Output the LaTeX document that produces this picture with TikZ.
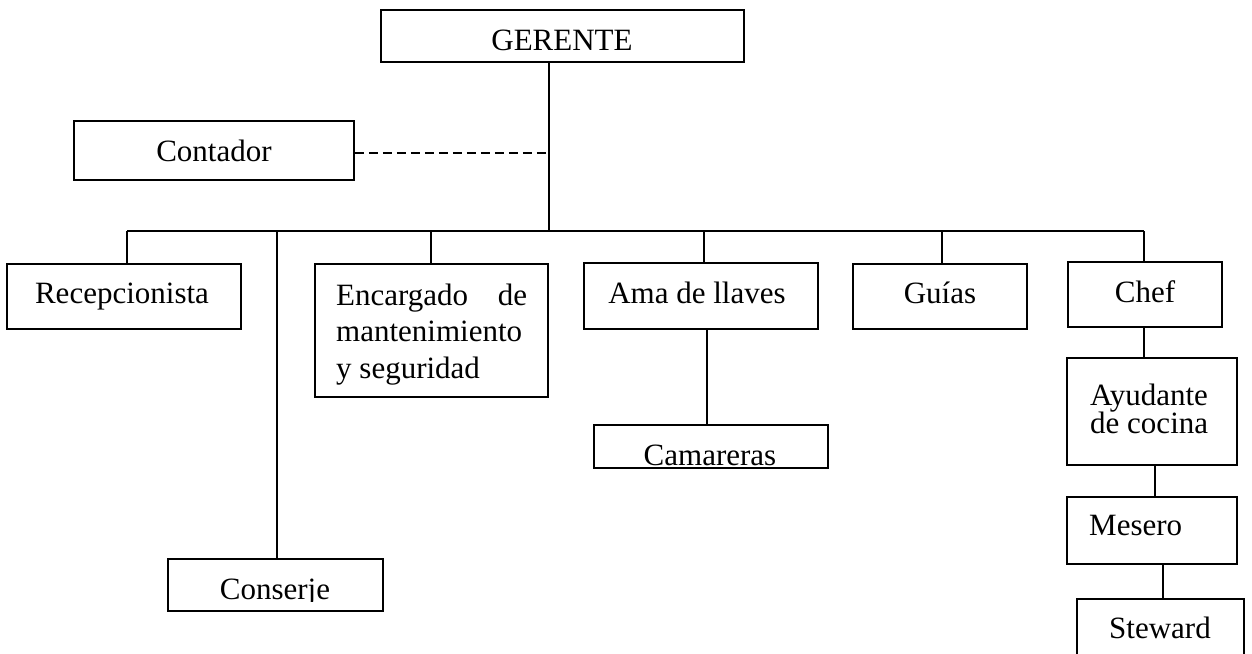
\documentclass[tikz,border=0pt]{standalone}
\usepackage{fontspec}
\setmainfont{Liberation Serif}
\begin{document}
\begin{tikzpicture}[x=1pt,y=-1pt,
  box/.style={draw,line width=1.6pt,inner sep=0pt,rectangle},
  txt/.style={inner sep=0pt,font=\fontsize{31}{36}\selectfont},
  link/.style={line width=1.6pt},
  dash line/.style={line width=1.6pt,dash pattern=on 9pt off 5pt}]
\useasboundingbox (0,0) rectangle (1252,653);
\clip (0,0) rectangle (1252,653);
% boxes
\node[box,minimum width=363pt,minimum height=52pt] (ger) at (562.5,36) {};
\node[box,minimum width=280pt,minimum height=59pt] (cont) at (214,150.5) {};
\node[box,minimum width=234pt,minimum height=65pt] (rec) at (124,296.5) {};
\node[box,minimum width=233pt,minimum height=133pt] (enc) at (431.5,330.5) {};
\node[box,minimum width=234pt,minimum height=66pt] (ama) at (701,296) {};
\node[box,minimum width=174pt,minimum height=65pt] (guias) at (940,296.5) {};
\node[box,minimum width=154pt,minimum height=65pt] (chef) at (1145,294.5) {};
\node[box,minimum width=170pt,minimum height=107pt] (aya) at (1152,411.5) {};
\node[box,minimum width=170pt,minimum height=67pt] (mes) at (1152,530.5) {};
\node[box,minimum width=167pt,minimum height=91pt] (stew) at (1160.5,644.5) {};
\node[box,minimum width=234pt,minimum height=43pt] (cam) at (711,446.5) {};
\node[box,minimum width=215pt,minimum height=52pt] (cons) at (275.5,585) {};
% texts
\node[txt,anchor=base] (tger) at (562,50) {GERENTE};
\node[txt,anchor=base] (tcont) at (214,161) {Contador};
\node[txt,anchor=base] (trec) at (122,303) {Recepcionista};
\node[txt,anchor=base west] (tenc1) at (336,305) {\makebox[191pt][s]{Encargado\hfill de}};
\node[txt,anchor=base west] (tenc2) at (336,341) {mantenimiento};
\node[txt,anchor=base west] (tenc3) at (336,378) {y seguridad};
\node[txt,anchor=base] (tama) at (697,303) {Ama de llaves};
\node[txt,anchor=base] (tguias) at (940,303) {Guías};
\node[txt,anchor=base] (tchef) at (1145,302) {Chef};
\node[txt,anchor=base west] (taya1) at (1090,405) {Ayudante};
\node[txt,anchor=base west] (taya2) at (1090,433) {de cocina};
\node[txt,anchor=base west] (tmes) at (1089,535) {Mesero};
\node[txt,anchor=base] (tstew) at (1160,638) {Steward};
\node[txt,anchor=base] (tcam) at (710,465) {Camareras};
\begin{scope}
\clip (168,559) rectangle (383,601);
\node[txt,anchor=base] (tcons) at (275,599) {Conserje};
\end{scope}
% connectors
\coordinate (j) at (549,231);
\coordinate (busL) at (127,231);
\coordinate (busR) at (1144,231);
\coordinate (bcons) at (277,231);
\coordinate (benc) at (431,231);
\coordinate (bama) at (704,231);
\coordinate (bguias) at (942,231);
\draw[link] (ger.south -| j) -- (j);
\draw[dash line] (cont.east |- 0,153) -- (549,153);
\draw[link] (busL) -- (busR);
\draw[link] (busL) -- (busL |- rec.north);
\draw[link] (bcons) -- (bcons |- cons.north);
\draw[link] (benc) -- (benc |- enc.north);
\draw[link] (bama) -- (bama |- ama.north);
\draw[link] (bguias) -- (bguias |- guias.north);
\draw[link] (busR) -- (busR |- chef.north);
\coordinate (cama) at (707,329);
\draw[link] (ama.south -| cama) -- (cam.north -| cama);
\coordinate (cchef) at (1144,327);
\draw[link] (chef.south -| cchef) -- (aya.north -| cchef);
\coordinate (caya) at (1155,465);
\draw[link] (aya.south -| caya) -- (mes.north -| caya);
\coordinate (cmes) at (1163,564);
\draw[link] (mes.south -| cmes) -- (stew.north -| cmes);
\end{tikzpicture}
\end{document}
